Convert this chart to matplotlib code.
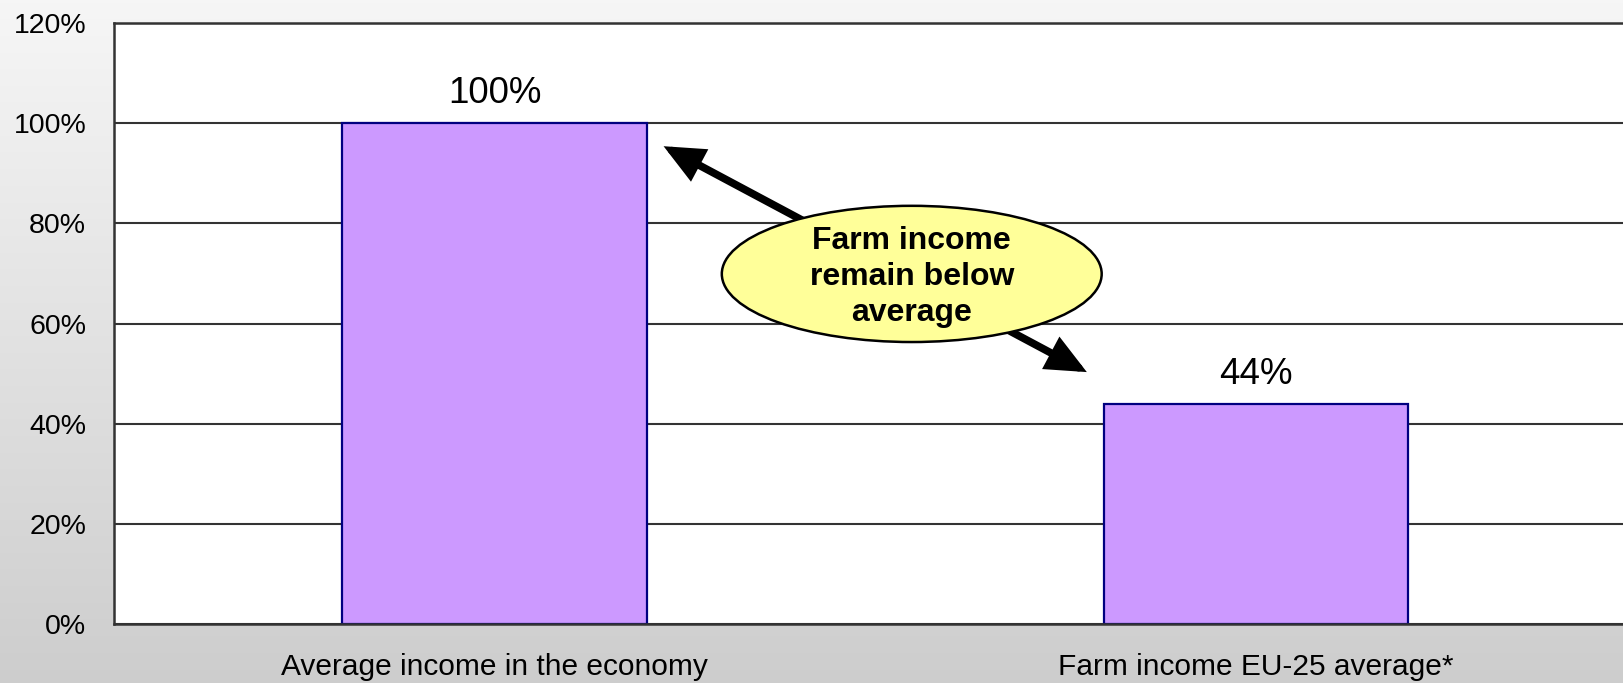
import numpy as np
import matplotlib.pyplot as plt
from matplotlib.patches import Ellipse

plt.rcParams['font.family'] = ['Liberation Sans', 'DejaVu Sans']

# data
categories = ['Average income in the economy', 'Farm income EU-25 average*']
values = [100, 44]
value_labels = ['100%', '44%']
yticks = [0, 20, 40, 60, 80, 100, 120]
ytick_labels = ['0%', '20%', '40%', '60%', '80%', '100%', '120%']
callout = 'Farm income\nremain below\naverage'

fig = plt.figure(figsize=(16.23, 6.83), dpi=100)

# grey gradient background
bg = fig.add_axes([0, 0, 1, 1], zorder=-1)
grad = np.linspace(0.965, 0.805, 256).reshape(-1, 1)
bg.imshow(np.dstack([grad, grad, grad]), aspect='auto', extent=[0, 1, 0, 1])
bg.axis('off')

ax = fig.add_axes([0.0702, 0.0864, 0.9381, 0.8799])
ax.set_facecolor('white')
x = np.arange(len(categories))
ax.bar(x, values, width=0.4, color='#cc99ff', edgecolor='#000080', lw=1.6, zorder=2)

for xi, v, lab in zip(x, values, value_labels):
    ax.text(xi, v + 4, lab, ha='center', va='baseline', fontsize=26.5)

ax.set_xlim(-0.5, 1.5)
ax.set_ylim(0, 120)
ax.set_yticks(yticks)
ax.set_yticklabels(ytick_labels, fontsize=20.5)
ax.set_xticks(x)
ax.set_xticklabels(categories, fontsize=21.5)
ax.tick_params(axis='y', length=0, pad=20)
ax.tick_params(axis='x', length=0, pad=21)
ax.yaxis.grid(True, color='#333333', lw=1.5)
ax.set_axisbelow(True)
for s in ['left', 'bottom', 'top']:
    ax.spines[s].set_color('#333333')
    ax.spines[s].set_linewidth(1.8)
ax.spines['right'].set_visible(False)

# double arrow behind the callout
ax.annotate('', xy=(0.222, 95.4), xytext=(0.778, 50.3),
            arrowprops=dict(arrowstyle='<|-|>,head_length=1.0,head_width=0.45',
                            mutation_scale=20, lw=5.5, color='black',
                            shrinkA=0, shrinkB=0, joinstyle='miter'),
            zorder=3)
ell = Ellipse((0.548, 69.9), 0.499, 27.2, facecolor='#ffff99',
              edgecolor='black', lw=1.8, zorder=4)
ax.add_patch(ell)
ax.text(0.548, 69.3, callout, ha='center', va='center', fontsize=23,
        fontweight='bold', linespacing=1.25, zorder=5)

fig.savefig('out.png', dpi=100)
